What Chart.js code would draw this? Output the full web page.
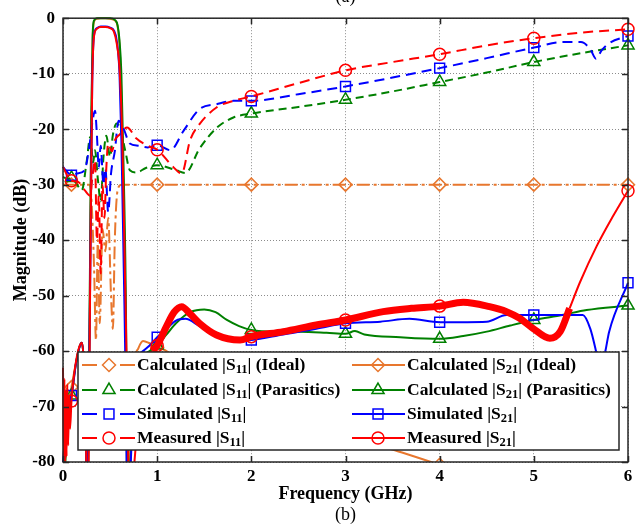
<!DOCTYPE html>
<html>
<head>
<meta charset="utf-8">
<script src="https://cdn.jsdelivr.net/npm/chart.js@4.4.1/dist/chart.umd.min.js"></script>
<style>
  html, body { margin: 0; padding: 0; background: #fff; }
  #wrap { width: 639px; height: 525px; }
</style>
</head>
<body>
<div id="wrap"><canvas id="myChart" width="639" height="525"></canvas></div>
<script>
// Tick values
const xTicks = [0, 1, 2, 3, 4, 5, 6];          // GHz
const yTicks = [0, -10, -20, -30, -40, -50, -60, -70, -80]; // dB
// frequencies where the markers sit
const markerFreqs = [0.09, 1, 2, 3, 4, 5, 6];

// [frequency GHz, magnitude dB]
const s11Ideal = [[0,-30],[0.09,-30],[0.2,-30],[0.28,-30],[0.3,-32],[0.33,-45],[0.35,-58],[0.37,-40],[0.39,-55],[0.42,-38],[0.45,-42],[0.48,-36],[0.51,-50],[0.53,-56],[0.55,-40],[0.58,-31],[0.62,-30],[1,-30],[2,-30],[3,-30],[4,-30],[5,-30],[6,-30]];
const s21Ideal = [[0,-88],[0.03,-78],[0.05,-71],[0.09,-66.5],[0.14,-62],[0.18,-59],[0.2,-58.5],[0.22,-62],[0.245,-78],[0.258,-95],[0.27,-75],[0.285,-50],[0.3,-20],[0.315,-4],[0.33,-0.6],[0.36,-0.1],[0.4,0],[0.45,0],[0.5,-0.1],[0.55,-0.4],[0.58,-1.5],[0.6,-5],[0.62,-14],[0.645,-35],[0.67,-60],[0.69,-95],[0.72,-75],[0.76,-62],[0.8,-59.5],[0.85,-58.2],[0.92,-58.6],[1,-59.3],[1.1,-60],[1.2,-61.5],[1.5,-65],[2,-69],[2.5,-72],[3,-75],[3.6,-78.3],[4,-80.5],[5,-86],[6,-90]];
const s11Para = [[0,-28.6],[0.05,-29],[0.09,-28.8],[0.13,-29.5],[0.2,-31],[0.25,-26],[0.29,-21.4],[0.32,-26],[0.34,-23.8],[0.37,-29],[0.4,-33],[0.43,-25],[0.46,-21.2],[0.5,-25],[0.53,-21],[0.57,-19],[0.61,-20],[0.66,-23.8],[0.71,-27.4],[0.78,-27.8],[0.88,-27],[1,-26.5],[1.2,-27.4],[1.3,-27.9],[1.45,-23.5],[1.63,-19.8],[1.81,-17.9],[2,-17.2],[2.5,-16],[3,-14.7],[3.5,-13.2],[4,-11.5],[4.5,-9.8],[5,-7.9],[5.5,-6.3],[6,-4.9]];
const s21Para = [[0,-88],[0.03,-78],[0.05,-72],[0.09,-68],[0.14,-62],[0.18,-59],[0.2,-58.5],[0.22,-62],[0.245,-78],[0.258,-95],[0.27,-75],[0.285,-48],[0.3,-18],[0.315,-3],[0.33,-0.4],[0.36,0],[0.45,0],[0.5,0],[0.55,-0.3],[0.58,-1.3],[0.6,-4],[0.62,-10],[0.645,-28],[0.67,-55],[0.685,-95],[0.72,-78],[0.78,-65],[0.85,-61],[0.92,-60],[1,-59],[1.1,-57],[1.2,-55],[1.35,-53],[1.5,-52.5],[1.62,-53],[1.74,-54.4],[1.87,-55.5],[2,-56.2],[2.25,-56.5],[2.52,-56.5],[2.8,-56.7],[3,-56.9],[3.1,-56.4],[3.2,-57],[3.58,-57.5],[4,-57.8],[4.25,-57.3],[4.5,-56.5],[4.75,-55.4],[5,-54.4],[5.3,-53.5],[5.56,-52.6],[6,-51.8]];
const s11Sim = [[0,-26.8],[0.05,-27.8],[0.09,-28.3],[0.15,-28],[0.23,-27.4],[0.28,-23],[0.31,-19],[0.34,-16.7],[0.36,-21],[0.38,-27],[0.4,-23],[0.43,-30],[0.45,-27],[0.48,-35],[0.51,-28],[0.55,-24],[0.59,-18.5],[0.64,-19.8],[0.71,-22.6],[0.8,-23],[0.9,-23.3],[1,-22.9],[1.14,-23.8],[1.28,-20.3],[1.45,-16.4],[1.63,-15.5],[1.81,-14.9],[2,-14.9],[2.5,-13.7],[3,-12.3],[3.5,-10.7],[4,-9],[4.5,-7.2],[5,-5.3],[5.3,-4.3],[5.5,-4.3],[5.6,-5.6],[5.66,-7.3],[5.72,-5.8],[5.8,-4.5],[6,-3.2]];
const s21Sim = [[0,-80],[0.03,-74],[0.05,-70],[0.09,-68],[0.14,-62],[0.18,-59],[0.2,-58.5],[0.22,-62],[0.245,-78],[0.258,-95],[0.27,-75],[0.29,-45],[0.31,-12],[0.33,-3],[0.36,-1.8],[0.4,-1.5],[0.45,-1.5],[0.5,-1.7],[0.54,-2.2],[0.57,-4],[0.6,-10],[0.62,-22],[0.645,-45],[0.67,-70],[0.685,-95],[0.72,-80],[0.75,-68],[0.78,-62],[0.85,-60],[0.92,-59],[1,-57.5],[1.1,-56],[1.2,-54.5],[1.3,-54.2],[1.45,-55.5],[1.63,-57],[1.81,-58.3],[2,-58],[2.34,-57],[2.69,-56],[3,-55],[3.37,-54.7],[3.68,-54.2],[4,-54.8],[4.5,-54.7],[4.71,-53.5],[5,-53.5],[5.52,-53.5],[5.6,-56],[5.66,-60],[5.71,-64],[5.76,-60],[5.8,-56.5],[6,-47.7]];
const s11Meas = [[0,-26.8],[0.05,-28.5],[0.09,-29.3],[0.16,-29.5],[0.23,-31],[0.29,-32],[0.31,-29],[0.34,-25.6],[0.36,-40],[0.38,-32],[0.4,-46],[0.42,-30],[0.44,-36],[0.46,-27],[0.48,-22.6],[0.52,-24],[0.55,-22],[0.6,-21],[0.68,-19.7],[0.78,-21.7],[0.9,-23],[1,-23.7],[1.17,-26.8],[1.26,-28],[1.35,-22],[1.45,-19.1],[1.63,-16.1],[1.81,-14.9],[2,-14.1],[2.5,-11.7],[3,-9.4],[3.5,-7.9],[4,-6.5],[4.5,-4.9],[5,-3.6],[5.5,-2.6],[6,-2]];
const s21Meas = [[0,-63],[0.008,-79],[0.015,-65],[0.022,-80],[0.03,-67],[0.038,-79],[0.046,-66],[0.055,-77],[0.065,-68],[0.075,-74],[0.09,-69],[0.12,-64],[0.16,-60],[0.2,-58.5],[0.22,-62],[0.245,-78],[0.26,-95],[0.275,-75],[0.29,-45],[0.31,-12],[0.33,-3.2],[0.36,-1.9],[0.4,-1.6],[0.45,-1.6],[0.5,-1.8],[0.54,-2.4],[0.57,-4.5],[0.6,-9],[0.63,-22],[0.66,-48],[0.69,-75],[0.705,-95],[0.75,-82],[0.8,-72],[0.87,-62],[0.95,-60],[1,-59],[1.1,-55.5],[1.18,-53],[1.26,-52],[1.35,-53.3],[1.45,-55],[1.63,-57.1],[1.88,-58],[2,-57.4],[2.34,-56.5],[2.69,-55.3],[3,-54.4],[3.4,-52.9],[3.7,-52.3],[4,-51.9],[4.25,-51.2],[4.53,-52],[4.71,-52.9],[4.85,-54.1],[4.99,-55.9],[5.17,-57.7],[5.28,-56.5],[5.38,-52.3],[5.49,-47.6],[5.67,-41],[5.84,-35.7],[6,-31.1]];

const ORANGE = '#E8772E';
const GREEN = '#008000';
const BLUE = '#0000FF';
const RED = '#FF0000';
const FONT = '"Liberation Serif", "Times New Roman", serif';

const toXY = arr => arr.map(p => ({ x: p[0], y: p[1] }));

function markerRadius(r) {
    return ctx => (ctx.raw && markerFreqs.includes(ctx.raw.x)) ? r : 0;
}

// build one line dataset
function trace(label, data, color, dash, pointStyle, r) {
    return {
        label: label,
        data: toXY(data),
        borderColor: color,
        borderWidth: 2,
        borderDash: dash,
        pointStyle: pointStyle,
        pointRadius: markerRadius(r),
        pointBorderColor: color,
        pointBackgroundColor: 'rgba(0,0,0,0)',
        pointBorderWidth: 1.5,
        fill: false,
        cubicInterpolationMode: 'monotone',
        clip: { left: 10, top: 10, right: 10, bottom: 0 }
    };
}

const dsMeas21 = trace('Measured |S21|', s21Meas, RED, [], 'circle', 6);
// the measured trace is noisy between 1 and 5.4 GHz: draw it as a wider band there
dsMeas21.segment = {
    borderWidth: ctx => (ctx.p0.parsed.x >= 0.9 && ctx.p1.parsed.x <= 5.4) ? 7 : 2
};

const datasets = [
    dsMeas21,
    trace('Simulated |S21|', s21Sim, BLUE, [], 'rect', 7),
    trace('Measured |S11|', s11Meas, RED, [10, 6], 'circle', 6),
    trace('Simulated |S11|', s11Sim, BLUE, [10, 6], 'rect', 7),
    trace('Calculated |S21| (Parasitics)', s21Para, GREEN, [], 'triangle', 7),
    trace('Calculated |S11| (Parasitics)', s11Para, GREEN, [8, 5], 'triangle', 7),
    trace('Calculated |S21| (Ideal)', s21Ideal, ORANGE, [], 'rectRot', 6.5),
    trace('Calculated |S11| (Ideal)', s11Ideal, ORANGE, [13, 4, 3, 4], 'rectRot', 6.5)
];

// legend layout (MATLAB style box inside the axes)
const legendRows = [
    [['Calculated |S', '11', '| (Ideal)', ORANGE, true, 'rectRot', 6.5], ['Calculated |S', '21', '| (Ideal)', ORANGE, false, 'rectRot', 6.5]],
    [['Calculated |S', '11', '| (Parasitics)', GREEN, true, 'triangle', 7], ['Calculated |S', '21', '| (Parasitics)', GREEN, false, 'triangle', 7]],
    [['Simulated |S', '11', '|', BLUE, true, 'rect', 7], ['Simulated |S', '21', '|', BLUE, false, 'rect', 7]],
    [['Measured |S', '11', '|', RED, true, 'circle', 6], ['Measured |S', '21', '|', RED, false, 'circle', 6]]
];

function drawMarker(ctx, style, x, y, r, color) {
    ctx.save();
    ctx.setLineDash([]);
    ctx.strokeStyle = color;
    ctx.lineWidth = 1.5;
    ctx.beginPath();
    if (style === 'rectRot') {
        ctx.moveTo(x - r, y); ctx.lineTo(x, y - r); ctx.lineTo(x + r, y); ctx.lineTo(x, y + r);
        ctx.closePath();
    } else if (style === 'triangle') {
        const a = 2 * Math.PI / 3;
        ctx.moveTo(x, y - r);
        ctx.lineTo(x + Math.sin(a) * r, y - Math.cos(a) * r);
        ctx.lineTo(x + Math.sin(2 * a) * r, y - Math.cos(2 * a) * r);
        ctx.closePath();
    } else if (style === 'rect') {
        const s = r * Math.SQRT1_2;
        ctx.rect(x - s, y - s, 2 * s, 2 * s);
    } else {
        ctx.arc(x, y, r, 0, Math.PI * 2);
    }
    ctx.stroke();
    ctx.restore();
}

const decorPlugin = {
    id: 'decor',
    afterDraw(chart) {
        const ctx = chart.ctx;
        const a = chart.chartArea;
        const xs = chart.scales.x, ys = chart.scales.y;
        ctx.save();

        // axes box and inward ticks
        ctx.strokeStyle = '#262626';
        ctx.lineWidth = 1.5;
        ctx.setLineDash([]);
        ctx.strokeRect(a.left, a.top, a.right - a.left, a.bottom - a.top);
        ctx.beginPath();
        xTicks.forEach(v => {
            const px = Math.round(xs.getPixelForValue(v)) + 0.5;
            ctx.moveTo(px, a.bottom); ctx.lineTo(px, a.bottom - 6);
            ctx.moveTo(px, a.top); ctx.lineTo(px, a.top + 6);
        });
        yTicks.forEach(v => {
            const py = Math.round(ys.getPixelForValue(v)) + 0.5;
            ctx.moveTo(a.left, py); ctx.lineTo(a.left + 6, py);
            ctx.moveTo(a.right, py); ctx.lineTo(a.right - 6, py);
        });
        ctx.stroke();

        // legend box
        const bx = 78, by = 352, bw = 541, bh = 98;
        ctx.fillStyle = '#fff';
        ctx.fillRect(bx, by, bw, bh);
        ctx.strokeStyle = '#262626';
        ctx.lineWidth = 1.5;
        ctx.strokeRect(bx, by, bw, bh);

        const rowY = [365, 390, 414, 438];
        legendRows.forEach((row, i) => {
            row.forEach((item, j) => {
                const [pre, sub, post, color, dashed, style, r] = item;
                const y = rowY[i];
                ctx.strokeStyle = color;
                ctx.lineWidth = 2;
                ctx.setLineDash([]);
                let mx, tx;
                if (j === 0) {
                    mx = 109; tx = 137;
                    ctx.beginPath();
                    ctx.moveTo(82, y); ctx.lineTo(97, y);
                    ctx.moveTo(120, y); ctx.lineTo(135, y);
                    ctx.stroke();
                } else {
                    mx = 378; tx = 407;
                    ctx.beginPath();
                    ctx.moveTo(352, y); ctx.lineTo(405, y);
                    ctx.stroke();
                }
                drawMarker(ctx, style, mx, y, r, color);

                ctx.fillStyle = '#000';
                ctx.textBaseline = 'middle';
                ctx.textAlign = 'left';
                ctx.font = 'bold 17.5px ' + FONT;
                ctx.fillText(pre, tx, y);
                let x = tx + ctx.measureText(pre).width;
                ctx.font = 'bold 12.5px ' + FONT;
                ctx.fillText(sub, x, y + 5);
                x += ctx.measureText(sub).width;
                ctx.font = 'bold 17.5px ' + FONT;
                ctx.fillText(post, x, y);
            });
        });

        // axis titles and captions
        ctx.fillStyle = '#000';
        ctx.textAlign = 'center';
        ctx.textBaseline = 'middle';
        ctx.font = 'bold 18px ' + FONT;
        ctx.fillText('Frequency (GHz)', (a.left + a.right) / 2, 494);
        ctx.save();
        ctx.translate(21, (a.top + a.bottom) / 2);
        ctx.rotate(-Math.PI / 2);
        ctx.fillText('Magnitude (dB)', 0, 0);
        ctx.restore();
        ctx.font = '18px ' + FONT;
        ctx.fillText('(b)', (a.left + a.right) / 2, 515);
        ctx.textBaseline = 'alphabetic';
        ctx.fillText('(a)', (a.left + a.right) / 2, 2);

        ctx.restore();
    }
};

const ctx = document.getElementById('myChart').getContext('2d');
const chart = new Chart(ctx, {
    type: 'line',
    data: { datasets: datasets },
    options: {
        responsive: false,
        animation: false,
        events: [],
        layout: { padding: { left: 0, right: 11, top: 13, bottom: 0 } },
        plugins: {
            legend: { display: false },
            tooltip: { enabled: false }
        },
        scales: {
            x: {
                type: 'linear',
                min: 0,
                max: 6,
                afterFit: s => { s.height = 63; },
                afterBuildTicks: s => { s.ticks = xTicks.map(v => ({ value: v })); },
                ticks: {
                    autoSkip: false,
                    maxRotation: 0,
                    padding: 4,
                    color: '#000',
                    font: { family: FONT, size: 17, weight: 'bold' }
                },
                grid: { color: 'rgba(0,0,0,0.45)', drawTicks: false, lineWidth: 1 },
                border: { display: false, dash: [1, 2] }
            },
            y: {
                type: 'linear',
                min: -80,
                max: 0,
                afterFit: s => { s.width = 63; },
                afterBuildTicks: s => { s.ticks = yTicks.map(v => ({ value: v })); },
                ticks: {
                    autoSkip: false,
                    padding: 8,
                    color: '#000',
                    font: { family: FONT, size: 17, weight: 'bold' }
                },
                grid: { color: 'rgba(0,0,0,0.45)', drawTicks: false, lineWidth: 1 },
                border: { display: false, dash: [1, 2] }
            }
        }
    },
    plugins: [decorPlugin]
});
</script>
</body>
</html>
